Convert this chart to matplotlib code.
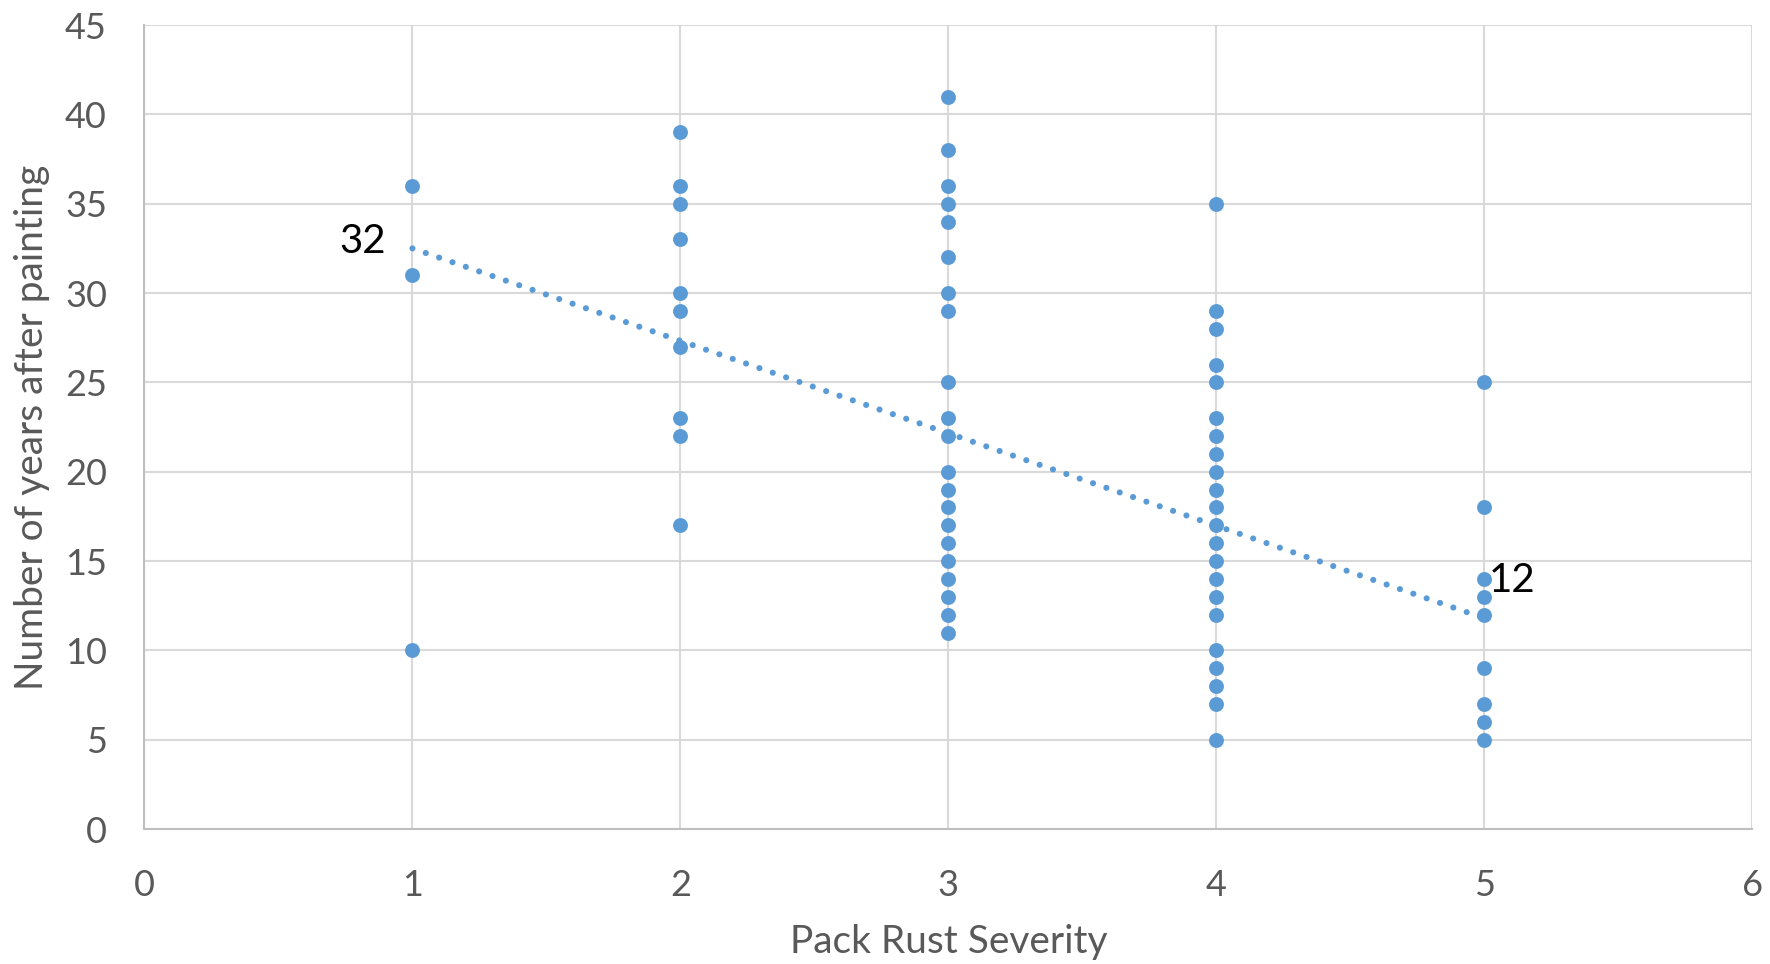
import matplotlib.pyplot as plt
import numpy as np

plt.rcParams['font.family'] = ['Lato', 'DejaVu Sans']

# years after painting, grouped by pack rust severity
sev1 = [36, 31, 10]
sev2 = [39, 36, 35, 33, 30, 29, 27, 23, 22, 17]
sev3 = [41, 38, 36, 35, 34, 32, 30, 29, 25, 23, 22, 20, 19, 18, 17, 16, 15, 14, 13, 12, 11]
sev4 = [35, 29, 28, 26, 25, 23, 22, 21, 20, 19, 18, 17, 16, 15, 14, 13, 12, 10, 9, 8, 7, 5]
sev5 = [25, 18, 14, 13, 12, 9, 7, 6, 5]
groups = [sev1, sev2, sev3, sev4, sev5]
severity = [1, 2, 3, 4, 5]

# trendline (ends at severity 1 and 5)
trend_x = [1, 5]
trend_y = [32.5, 11.8]
trend_labels = ['32', '12']

x = np.concatenate([[s] * len(g) for s, g in zip(severity, groups)])
y = np.concatenate(groups)

blue = '#5b9bd5'
grey = '#595959'

fig = plt.figure(figsize=(17.7, 9.64), dpi=100)
ax = fig.add_axes([0.0816, 0.140, 0.9084, 0.834])

ax.scatter(x, y, s=115, color=blue, zorder=3, linewidths=0)

ax.plot(trend_x, trend_y, color=blue, lw=4.4, ls=(0, (0.01, 2.3)), dash_capstyle='round', zorder=4)

ax.annotate(trend_labels[0], (trend_x[0], trend_y[0]), xytext=(-19, 5), textcoords='offset points',
            ha='right', va='center', fontsize=29, color='black')
ax.annotate(trend_labels[1], (trend_x[1], trend_y[1]), xytext=(3, 27), textcoords='offset points',
            ha='left', va='center', fontsize=29, color='black')

ax.set_xlim(0, 6)
ax.set_ylim(0, 45)
ax.set_xticks(range(0, 7))
ax.set_yticks(range(0, 46, 5))
ax.grid(True, color='#d9d9d9', lw=1.5, zorder=0)
ax.set_axisbelow(True)
for side in ['top', 'right']:
    ax.spines[side].set_visible(False)
for side in ['left', 'bottom']:
    ax.spines[side].set_color('#bfbfbf')
    ax.spines[side].set_linewidth(1.5)
ax.tick_params(length=0, labelsize=26, labelcolor=grey)
ax.tick_params(axis='y', pad=27)
ax.tick_params(axis='x', pad=29)

ax.set_xlabel('Pack Rust Severity', fontsize=28, color=grey, va='center')
ax.set_ylabel('Number of years after painting', fontsize=28, color=grey, va='center', ha='center')
ax.xaxis.set_label_coords(0.5, -0.1405)
ax.yaxis.set_label_coords(-0.0697, 0.5)

fig.savefig('out.png', dpi=100)
